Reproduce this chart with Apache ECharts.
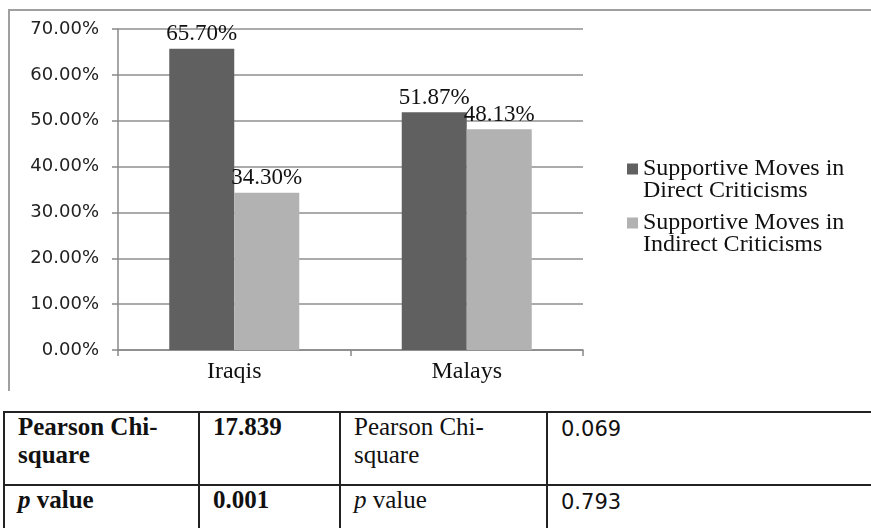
<!DOCTYPE html>
<html>
<head>
<meta charset="utf-8">
<script src="https://cdn.jsdelivr.net/npm/echarts@6/dist/echarts.min.js"></script>
<style>
  html, body { margin: 0; padding: 0; background: #fff; overflow: hidden; }
  #page { position: relative; width: 871px; height: 528px; overflow: hidden; }
  #frame { position: absolute; left: 8px; top: 9px; width: 900px; height: 380px;
           border-left: 2px solid #a0a0a0; border-top: 2px solid #a0a0a0; }
  #chart { position: absolute; left: 0; top: 0; width: 871px; height: 395px; }
  #stats { position: absolute; left: 3px; top: 411px; border-collapse: collapse; width: 940px; }
  #stats td { border: 2px solid #222; vertical-align: top; padding: 0 0 0 13px;
              font-family: "Liberation Serif", serif; font-size: 25px; line-height: 28px; color: #111; }
  #stats tr.r1 td { height: 69px; }
  #stats tr.r2 td { height: 60px; }
  #stats td.b { font-weight: bold; }
  #stats td.num { font-family: "DejaVu Sans", sans-serif; font-size: 21px; padding-top: 2px; }
</style>
</head>
<body>
<div id="page">
  <div id="frame"></div>
  <div id="chart"></div>
  <table id="stats"></table>
</div>
<script>
const categories = ["Iraqis", "Malays"];
const directMoves = [65.70, 51.87];
const indirectMoves = [34.30, 48.13];
const seriesNames = ["Supportive Moves in\nDirect Criticisms", "Supportive Moves in\nIndirect Criticisms"];
const yMin = 0, yMax = 70, yStep = 10;

// table under the chart
const tableRows = [
  ["Pearson Chi-\nsquare", "17.839", "Pearson Chi-\nsquare", "0.069"],
  ["p value", "0.001", "p value", "0.793"]
];
const cellClass = ["b", "b", "", "num"];
const colWidths = [180, 126, 192];

function cellHtml(txt) {
  return txt.replace(/^p /, "<i>p</i> ").replace("\n", "<br>");
}
const table = document.getElementById("stats");
table.innerHTML = tableRows.map((row, i) =>
  '<tr class="r' + (i + 1) + '">' +
  row.map((c, j) => '<td class="' + cellClass[j] + '"' +
    (colWidths[j] ? ' style="width:' + colWidths[j] + 'px"' : '') +
    '>' + cellHtml(c) + '</td>').join("") + '</tr>').join("");

const myChart = echarts.init(document.getElementById("chart"));
const labelStyle = {
  show: true,
  position: "top",
  distance: 3,
  fontFamily: "Liberation Serif",
  fontSize: 23,
  color: "#111",
  formatter: (p) => p.value.toFixed(2) + "%"
};
let option = {
  animation: false,
  grid: { left: 118, right: 288, top: 29, bottom: 45 },
  legend: {
    orient: "vertical",
    left: 622,
    top: 152,
    itemWidth: 11,
    itemHeight: 33,
    itemGap: 8,
    // square sits on the first text line
    icon: "path://M0,0H10V10H0Z M0,30H0.001V30.001H0Z",
    textStyle: {
      fontFamily: "Liberation Serif",
      fontSize: 24,
      lineHeight: 22,
      color: "#111"
    }
  },
  xAxis: {
    type: "category",
    data: categories,
    axisLine: { lineStyle: { color: "#888", width: 1.5 } },
    axisTick: { show: true, length: 6, lineStyle: { color: "#888", width: 1.5 } },
    axisLabel: { margin: 10, fontFamily: "Liberation Serif", fontSize: 24, color: "#111" }
  },
  yAxis: {
    type: "value",
    min: yMin,
    max: yMax,
    interval: yStep,
    axisLine: { show: true, lineStyle: { color: "#888", width: 1.5 } },
    axisTick: { show: true, length: 6, lineStyle: { color: "#888", width: 1.5 } },
    splitLine: { lineStyle: { color: "#8f8f8f", width: 1.5 } },
    axisLabel: {
      margin: 19,
      fontFamily: "DejaVu Sans",
      fontSize: 18,
      color: "#222",
      formatter: (v) => v.toFixed(2) + "%"
    }
  },
  series: [
    {
      name: seriesNames[0],
      type: "bar",
      data: directMoves,
      barWidth: 65,
      barGap: "0%",
      itemStyle: { color: "#606060" },
      label: labelStyle
    },
    {
      name: seriesNames[1],
      type: "bar",
      data: indirectMoves,
      barWidth: 65,
      itemStyle: { color: "#b2b2b2" },
      label: labelStyle
    }
  ]
};
option && myChart.setOption(option);
</script>
</body>
</html>
